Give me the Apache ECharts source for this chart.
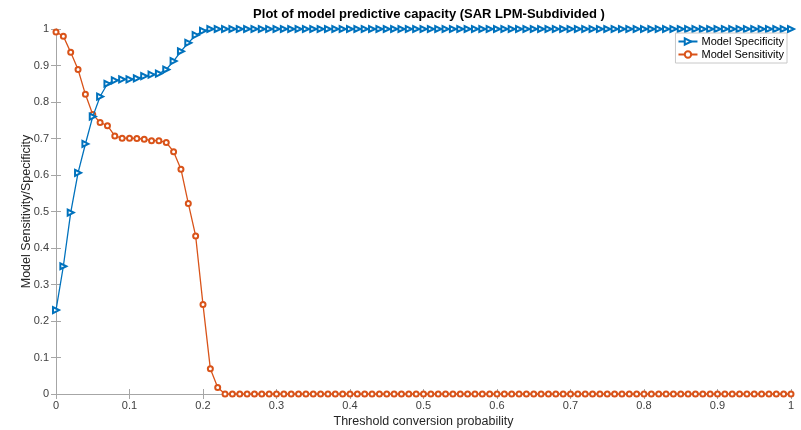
<!DOCTYPE html>
<html><head><meta charset="utf-8">
<script src="https://cdn.jsdelivr.net/npm/echarts@6/dist/echarts.min.js"></script>
<style>html,body{margin:0;padding:0;background:#fff}#c{width:801px;height:430px}</style>
</head><body><div id="c"></div>
<script>
const thresholds = [0,0.01,0.02,0.03,0.04,0.05,0.06,0.07,0.08,0.09,
0.1,0.11,0.12,0.13,0.14,0.15,0.16,0.17,0.18,0.19,
0.2,0.21,0.22,0.23,0.24,0.25,0.26,0.27,0.28,0.29,
0.3,0.31,0.32,0.33,0.34,0.35,0.36,0.37,0.38,0.39,
0.4,0.41,0.42,0.43,0.44,0.45,0.46,0.47,0.48,0.49,
0.5,0.51,0.52,0.53,0.54,0.55,0.56,0.57,0.58,0.59,
0.6,0.61,0.62,0.63,0.64,0.65,0.66,0.67,0.68,0.69,
0.7,0.71,0.72,0.73,0.74,0.75,0.76,0.77,0.78,0.79,
0.8,0.81,0.82,0.83,0.84,0.85,0.86,0.87,0.88,0.89,
0.9,0.91,0.92,0.93,0.94,0.95,0.96,0.97,0.98,0.99,1];
const specificity = [0.23,0.35,0.497,0.606,0.685,0.76,0.815,0.85,0.859,0.862,
0.862,0.865,0.871,0.875,0.878,0.889,0.912,0.939,0.962,0.983,
0.995,1,1,1,1,1,1,1,1,1,
1,1,1,1,1,1,1,1,1,1,
1,1,1,1,1,1,1,1,1,1,
1,1,1,1,1,1,1,1,1,1,
1,1,1,1,1,1,1,1,1,1,
1,1,1,1,1,1,1,1,1,1,
1,1,1,1,1,1,1,1,1,1,
1,1,1,1,1,1,1,1,1,1,1];
const sensitivity = [0.992,0.98,0.936,0.889,0.821,0.766,0.744,0.735,0.707,0.701,
0.701,0.7,0.698,0.694,0.694,0.689,0.664,0.616,0.522,0.433,
0.245,0.069,0.018,0,0,0,0,0,0,0,
0,0,0,0,0,0,0,0,0,0,
0,0,0,0,0,0,0,0,0,0,
0,0,0,0,0,0,0,0,0,0,
0,0,0,0,0,0,0,0,0,0,
0,0,0,0,0,0,0,0,0,0,
0,0,0,0,0,0,0,0,0,0,
0,0,0,0,0,0,0,0,0,0,0];
const xTicks = ['0','0.1','0.2','0.3','0.4','0.5','0.6','0.7','0.8','0.9','1'];
const yTicks = ['0','0.1','0.2','0.3','0.4','0.5','0.6','0.7','0.8','0.9','1'];

const font = 'Liberation Sans, Arial, sans-serif';
const axisCol = '#a6a6a6';
const txtCol = '#404040';
const fmtX = v => { const i = Math.round(v*10); return xTicks[i] !== undefined ? xTicks[i] : ''; };
const fmtY = v => { const i = Math.round(v*10); return yTicks[i] !== undefined ? yTicks[i] : ''; };

const chart = echarts.init(document.getElementById('c'), null, {renderer:'canvas'});
chart.setOption({
  animation:false,
  backgroundColor:'#fff',
  title:{text:'Plot of model predictive capacity (SAR LPM-Subdivided )', left:424, textAlign:'center', top:3,
    textStyle:{fontFamily:font, fontSize:13, fontWeight:'bold', color:'#000'}},
  grid:{left:56, right:10, top:29, bottom:36, containLabel:false, outerBoundsMode:'none'},
  legend:{right:14, top:33, orient:'vertical', backgroundColor:'#fff', borderColor:'#c8c8c8', borderWidth:1,
    padding:[3,3,3,2], itemGap:2, itemWidth:19, itemHeight:8,
    textStyle:{fontFamily:font, fontSize:11, color:'#000', lineHeight:11, padding:[0,0,0,-1]},
    data:['Model Specificity','Model Sensitivity']},
  xAxis:[{type:'value', min:0, max:1, interval:0.1, position:'bottom',
    name:'Threshold conversion probability', nameLocation:'middle', nameGap:21, nameMoveOverlap:false,
    nameTextStyle:{fontFamily:font, fontSize:12.5, color:'#262626'},
    axisLine:{lineStyle:{color:axisCol}}, axisTick:{inside:true, length:5, lineStyle:{color:axisCol}},
    axisLabel:{formatter:fmtX, fontFamily:font, fontSize:11, color:txtCol, margin:6},
    splitLine:{show:false}},
   {type:'value', min:0, max:1, interval:0.1, position:'top',
    axisLine:{lineStyle:{color:axisCol}}, axisTick:{inside:true, length:5, lineStyle:{color:axisCol}},
    axisLabel:{show:false}, splitLine:{show:false}}],
  yAxis:[{type:'value', min:0, max:1, interval:0.1, position:'left',
    name:'Model Sensitivity/Specificity', nameLocation:'middle', nameGap:23, nameMoveOverlap:false,
    nameTextStyle:{fontFamily:font, fontSize:12.5, color:'#262626'},
    axisLine:{show:true, lineStyle:{color:axisCol}}, axisTick:{show:true, inside:true, length:5, lineStyle:{color:axisCol}},
    axisLabel:{formatter:fmtY, fontFamily:font, fontSize:11, color:txtCol, margin:7},
    splitLine:{show:false}},
   {type:'value', min:0, max:1, interval:0.1, position:'right',
    axisLine:{show:true, lineStyle:{color:axisCol}}, axisTick:{show:true, inside:true, length:5, lineStyle:{color:axisCol}},
    axisLabel:{show:false}, splitLine:{show:false}}],
  series:[
    {name:'Model Specificity', type:'line', data:thresholds.map((t,i)=>[t,specificity[i]]),
     symbol:'emptyTriangle', symbolRotate:-90, symbolSize:6, showAllSymbol:true,
     itemStyle:{color:'#0072BD', borderWidth:1.2}, lineStyle:{color:'#0072BD', width:1.3}, z:3},
    {name:'Model Sensitivity', type:'line', data:thresholds.map((t,i)=>[t,sensitivity[i]]),
     symbol:'emptyCircle', symbolSize:5, showAllSymbol:true,
     itemStyle:{color:'#D95319', borderWidth:1.2}, lineStyle:{color:'#D95319', width:1.3}, z:2}
  ]
});
</script></body></html>
